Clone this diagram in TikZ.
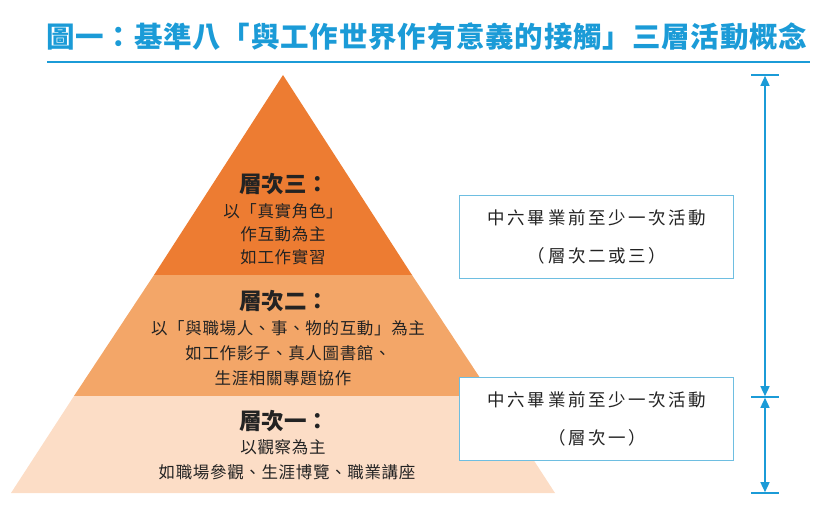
\documentclass[tikz,border=0pt]{standalone}
\usepackage{fontspec}
\setmainfont{Noto Sans CJK TC}
\usetikzlibrary{arrows.meta}
\definecolor{tblue}{RGB}{27,155,215}
\definecolor{boxblue}{RGB}{110,190,225}
\definecolor{ortop}{RGB}{237,124,50}
\definecolor{ormid}{RGB}{243,166,104}
\definecolor{orbot}{RGB}{252,221,198}
\definecolor{txt}{RGB}{35,35,35}
\tikzset{
  head/.style={font=\fontsize{22.5}{24}\selectfont\bfseries, text=txt, inner sep=0pt},
  body/.style={font=\fontsize{16.5}{18}\selectfont\addfontfeatures{LetterSpace=4}, text=txt, inner sep=0pt},
  boxtxt/.style={font=\fontsize{17.5}{19}\selectfont\addfontfeatures{LetterSpace=15}, text=txt, inner sep=0pt},
  infobox/.style={draw=boxblue, line width=0.9pt, fill=white},
  dimline/.style={draw=tblue, line width=1.5pt, {Triangle[length=10pt,width=9pt]}-{Triangle[length=10pt,width=9pt]}, shorten <=0.8pt, shorten >=0.8pt},
  tick/.style={draw=tblue, line width=1.5pt}
}
\begin{document}
\begin{tikzpicture}[x=1pt,y=-1pt]
\useasboundingbox (0,0) rectangle (822,510);
% title
\node[font=\fontsize{28.5}{30}\selectfont\bfseries\addfontfeatures{LetterSpace=2.8}, text=tblue, inner sep=0pt, anchor=west] (title) at (46,37) {圖一：基準八「與工作世界作有意義的接觸」三層活動概念};
\coordinate (ul1) at (47,62);
\coordinate (ul2) at (810,62);
\draw[tblue, line width=2pt] (ul1) -- (ul2);
% pyramid
\coordinate (apex) at (283,75);
\coordinate (L1) at (154,275);
\coordinate (R1) at (412,275);
\coordinate (L2) at (74,396);
\coordinate (R2) at (492,396);
\coordinate (L3) at (11,493);
\coordinate (R3) at (555,493);
\fill[orbot] (L2) -- (R2) -- (R3) -- (L3) -- cycle;
\fill[ormid] (L1) -- (R1) -- (R2) -- (L2) -- cycle;
\fill[ortop] (apex) -- (R1) -- (L1) -- cycle;
% tier texts
\node[head] (h3) at (284,184) {層次三：};
\node[body] (t3a) at (283,211) {以「真實角色」};
\node[body] (t3b) at (283,234) {作互動為主};
\node[body] (t3c) at (283,257) {如工作實習};
\node[head] (h2) at (284,301) {層次二：};
\node[body] (t2a) at (288,328) {以「與職場人、事、物的互動」為主};
\node[body] (t2b) at (288,353) {如工作影子、真人圖書館、};
\node[body] (t2c) at (283,378) {生涯相關專題協作};
\node[head] (h1) at (284,421) {層次一：};
\node[body] (t1a) at (283,447) {以觀察為主};
\node[body] (t1b) at (287,472) {如職場參觀、生涯博覽、職業講座};
% boxes
\node[infobox, minimum width=274pt, minimum height=83pt, inner sep=0pt] (box1) at (596,236.5) {};
\node[boxtxt] (b1a) at (597,218) {中六畢業前至少一次活動};
\node[boxtxt] (b1b) at (597,256) {（層次二或三）};
\node[infobox, minimum width=274pt, minimum height=83pt, inner sep=0pt] (box2) at (596,418.5) {};
\node[boxtxt] (b2a) at (597,400) {中六畢業前至少一次活動};
\node[boxtxt] (b2b) at (597,438) {（層次一）};
% dimension arrows
\coordinate (a1) at (765,75);
\coordinate (a2) at (765,397);
\coordinate (a3) at (765,493);
\draw[tick] ([xshift=-14pt]a1) -- ([xshift=14pt]a1);
\draw[tick] ([xshift=-14pt]a2) -- ([xshift=14pt]a2);
\draw[tick] ([xshift=-14pt]a3) -- ([xshift=14pt]a3);
\draw[dimline] (a1) -- (a2);
\draw[dimline] (a2) -- (a3);
\end{tikzpicture}
\end{document}
